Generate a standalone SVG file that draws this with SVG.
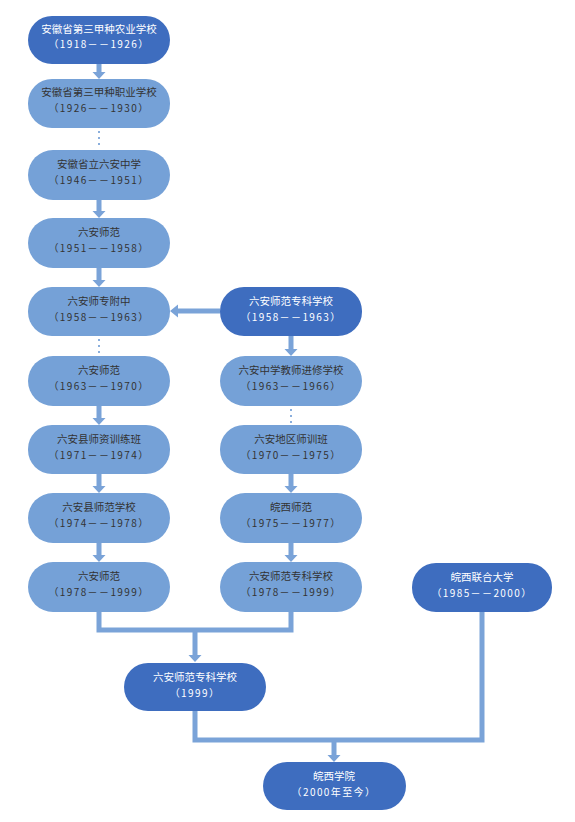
<svg xmlns="http://www.w3.org/2000/svg" width="575" height="822" viewBox="0 0 575 822">
<style>
.dk{fill:#3e6dbf}
.lt{fill:#75a1d7}
.t{font-family:"Noto Sans CJK SC","Liberation Sans",sans-serif;text-anchor:middle}
.tn{font-size:10.5px}
.td{font-size:10px;letter-spacing:1.4px}
.w{fill:#ffffff}
.b{fill:#333333}
.ln{stroke:#7aa3d8;stroke-width:5;fill:none}
.ar{fill:#7aa3d8}
.dot{stroke:#8aaedc;stroke-width:2;stroke-dasharray:2 4;fill:none}
</style>
<rect width="575" height="822" fill="#ffffff"/>
<g id="connectors">
<polygon class="ar" points="96.5,64 101.5,64 101.5,72 105.5,72 99,79 92.5,72 96.5,72"/>
<line class="dot" x1="99" y1="131" x2="99" y2="149"/>
<polygon class="ar" points="96.5,200 101.5,200 101.5,211 105.5,211 99,218 92.5,211 96.5,211"/>
<polygon class="ar" points="96.5,268 101.5,268 101.5,280 105.5,280 99,287 92.5,280 96.5,280"/>
<line class="dot" x1="99" y1="339" x2="99" y2="355"/>
<polygon class="ar" points="96.5,406 101.5,406 101.5,418 105.5,418 99,425 92.5,418 96.5,418"/>
<polygon class="ar" points="96.5,474 101.5,474 101.5,486 105.5,486 99,493 92.5,486 96.5,486"/>
<polygon class="ar" points="96.5,543 101.5,543 101.5,555 105.5,555 99,562 92.5,555 96.5,555"/>
<polygon class="ar" points="220,308.5 178,308.5 178,304.5 170,311 178,317.5 178,313.5 220,313.5"/>
<polygon class="ar" points="288.5,336 293.5,336 293.5,349 297.5,349 291,356 284.5,349 288.5,349"/>
<line class="dot" x1="291" y1="409" x2="291" y2="424"/>
<polygon class="ar" points="288.5,474 293.5,474 293.5,486 297.5,486 291,493 284.5,486 288.5,486"/>
<polygon class="ar" points="288.5,543 293.5,543 293.5,555 297.5,555 291,562 284.5,555 288.5,555"/>
<polyline class="ln" points="99,612 99,630 291,630 291,612"/>
<polygon class="ar" points="192.5,630 197.5,630 197.5,655 201.5,655 195,662 188.5,655 192.5,655"/>
<polyline class="ln" points="195,711 195,740 482,740 482,612"/>
<polygon class="ar" points="331.5,740 336.5,740 336.5,755 340.5,755 334,762 327.5,755 331.5,755"/>
</g>
<g id="n1"><rect class="dk" x="28" y="16" width="142" height="48" rx="24"/><text class="t tn w" x="99" y="33">安徽省第三甲种农业学校</text><text class="t td w" x="99" y="48">（1918－－1926）</text></g>
<g id="n2"><rect class="lt" x="28" y="79" width="142" height="49" rx="24"/><text class="t tn b" x="99" y="96">安徽省第三甲种职业学校</text><text class="t td b" x="99" y="112">（1926－－1930）</text></g>
<g id="n3"><rect class="lt" x="28" y="150" width="142" height="50" rx="25"/><text class="t tn b" x="99" y="168">安徽省立六安中学</text><text class="t td b" x="99" y="184">（1946－－1951）</text></g>
<g id="n4"><rect class="lt" x="28" y="218" width="142" height="50" rx="25"/><text class="t tn b" x="99" y="236">六安师范</text><text class="t td b" x="99" y="252">（1951－－1958）</text></g>
<g id="n5"><rect class="lt" x="28" y="287" width="142" height="49" rx="24"/><text class="t tn b" x="99" y="305">六安师专附中</text><text class="t td b" x="99" y="321">（1958－－1963）</text></g>
<g id="n6"><rect class="lt" x="28" y="356" width="142" height="50" rx="25"/><text class="t tn b" x="99" y="374">六安师范</text><text class="t td b" x="99" y="390">（1963－－1970）</text></g>
<g id="n7"><rect class="lt" x="28" y="425" width="142" height="49" rx="24"/><text class="t tn b" x="99" y="443">六安县师资训练班</text><text class="t td b" x="99" y="459">（1971－－1974）</text></g>
<g id="n8"><rect class="lt" x="28" y="493" width="142" height="50" rx="25"/><text class="t tn b" x="99" y="511">六安县师范学校</text><text class="t td b" x="99" y="527">（1974－－1978）</text></g>
<g id="n9"><rect class="lt" x="28" y="562" width="142" height="50" rx="25"/><text class="t tn b" x="99" y="580">六安师范</text><text class="t td b" x="99" y="596">（1978－－1999）</text></g>
<g id="r1"><rect class="dk" x="220" y="287" width="142" height="49" rx="24"/><text class="t tn w" x="291" y="305">六安师范专科学校</text><text class="t td w" x="291" y="321">（1958－－1963）</text></g>
<g id="r2"><rect class="lt" x="220" y="356" width="142" height="50" rx="25"/><text class="t tn b" x="291" y="374">六安中学教师进修学校</text><text class="t td b" x="291" y="390">（1963－－1966）</text></g>
<g id="r3"><rect class="lt" x="220" y="425" width="142" height="49" rx="24"/><text class="t tn b" x="291" y="443">六安地区师训班</text><text class="t td b" x="291" y="459">（1970－－1975）</text></g>
<g id="r4"><rect class="lt" x="220" y="493" width="142" height="50" rx="25"/><text class="t tn b" x="291" y="511">皖西师范</text><text class="t td b" x="291" y="527">（1975－－1977）</text></g>
<g id="r5"><rect class="lt" x="220" y="562" width="142" height="50" rx="25"/><text class="t tn b" x="291" y="580">六安师范专科学校</text><text class="t td b" x="291" y="596">（1978－－1999）</text></g>
<g id="u1"><rect class="dk" x="412" y="563" width="140" height="49" rx="24"/><text class="t tn w" x="482" y="581">皖西联合大学</text><text class="t td w" x="482" y="597">（1985－－2000）</text></g>
<g id="m1"><rect class="dk" x="124" y="663" width="142" height="48" rx="24"/><text class="t tn w" x="195" y="681">六安师范专科学校</text><text class="t td w" x="195" y="697">（1999）</text></g>
<g id="f1"><rect class="dk" x="263" y="762" width="143" height="48" rx="24"/><text class="t tn w" x="334" y="780">皖西学院</text><text class="t td w" x="334" y="796">（2000年至今）</text></g>
</svg>
